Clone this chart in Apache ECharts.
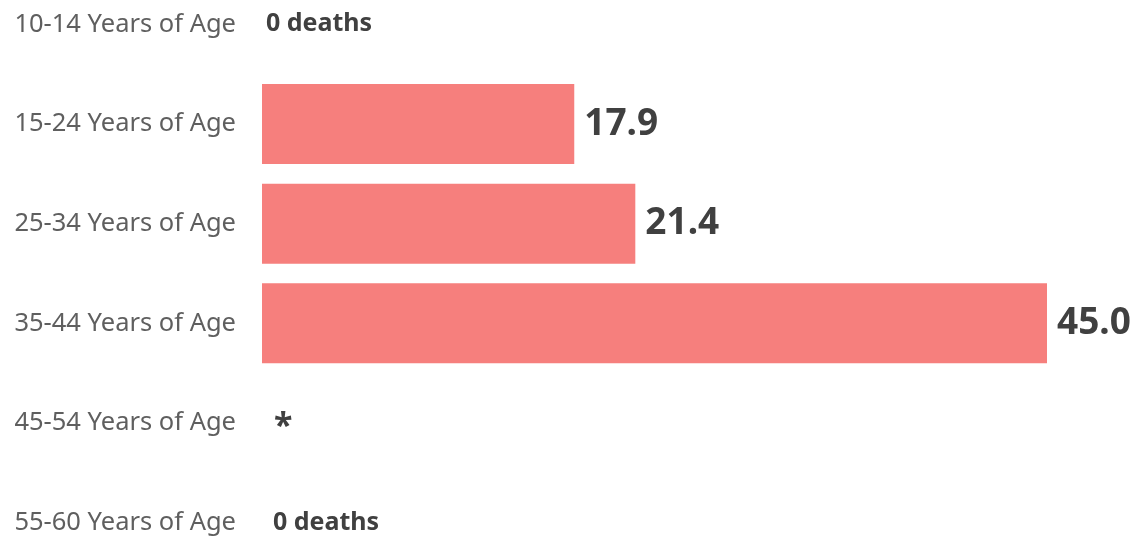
<!DOCTYPE html>
<html lang="en">
<head>
    <meta charset="UTF-8">
    <title>Deaths by age</title>
    <script src="https://cdn.jsdelivr.net/npm/echarts@6/dist/echarts.min.js"></script>
    <style>
        body{
            padding: 0px;
            margin: 0px;
            background-color: #ffffff;
        }
        #bar{
            width:1145px;
            height:540px;
        }
    </style>
</head>
<body>
    <div id="bar"></div>
    <script>
        var ageGroups = ['10-14 Years of Age', '15-24 Years of Age', '25-34 Years of Age',
                         '35-44 Years of Age', '45-54 Years of Age', '55-60 Years of Age'];
        var rates = [0, 17.9, 21.4, 45.0, null, 0];
        var valueLabels = ['0 deaths', '17.9', '21.4', '45.0', '*', '0 deaths'];
        var labelGap = [4, 10, 10, 10, 12, 11];

        var chart = echarts.init(document.getElementById('bar'));

        var seriesData = rates.map(function (v, i) {
            var zero = (v === 0 || v === null);
            return {
                value: v === null ? 0 : v,
                label: {
                    distance: labelGap[i],
                    fontSize: zero ? (v === null ? 34 : 25) : 37,
                    offset: v === null ? [0, 4] : [0, 0]
                }
            };
        });

        chart.setOption({
            animation: false,
            grid: {left: 262, width: 785, top: -25.5, height: 598, outerBoundsMode: 'none'},
            xAxis: {
                type: 'value', min: 0, max: 45, show: false
            },
            yAxis: {
                type: 'category',
                data: ageGroups,
                inverse: true,
                axisLine: {show: false},
                axisTick: {show: false},
                splitLine: {show: false},
                axisLabel: {
                    margin: 26,
                    fontSize: 25.5,
                    color: '#5f5f5f',
                    fontFamily: 'Noto Sans'
                }
            },
            series: [{
                type: 'bar',
                data: seriesData,
                barWidth: 80,
                itemStyle: {color: '#f67f7d'},
                label: {
                    show: true,
                    position: 'right',
                    fontFamily: 'Noto Sans',
                    fontWeight: 'bold',
                    color: '#404040',
                    formatter: function (p) { return valueLabels[p.dataIndex]; }
                }
            }]
        });
    </script>
</body>
</html>
